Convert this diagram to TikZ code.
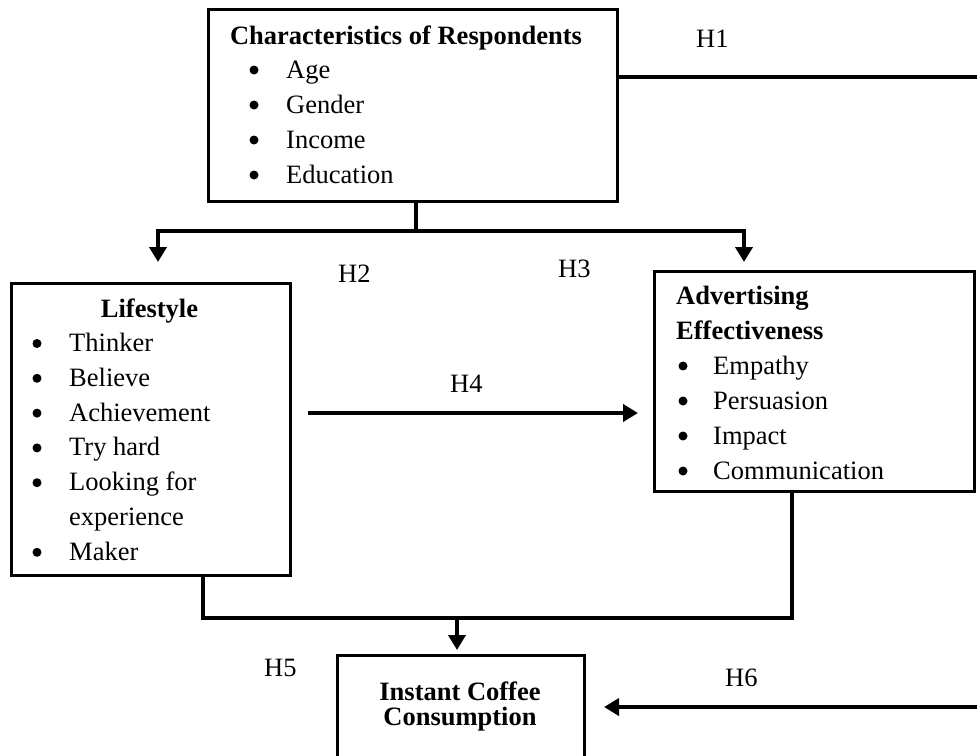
\documentclass[tikz,border=0pt]{standalone}
\usepackage{fontspec}
\setmainfont{Liberation Serif}
\usetikzlibrary{arrows.meta}
\begin{document}
\begin{tikzpicture}[x=1pt,y=-1pt,
 box/.style={draw,line width=2.6pt,inner sep=0pt,anchor=north west},
 conn/.style={line width=3.8pt},
 arr/.style={conn,-{Triangle[length=15pt,width=17pt]}},
 txt/.style={inner sep=0pt,anchor=base west,font=\fontsize{26.5}{35}\selectfont},
 btxt/.style={inner sep=0pt,anchor=base west,font=\fontsize{26.5}{35}\selectfont\bfseries},
 ctxt/.style={inner sep=0pt,anchor=base,font=\fontsize{26.5}{35}\selectfont\bfseries},
 bul/.style={circle,fill,inner sep=0pt,minimum size=9pt},
 hlab/.style={inner sep=0pt,anchor=base west,font=\fontsize{26.5}{35}\selectfont}]
\clip (0,0) rectangle (977,755);
\fill[white] (0,0) rectangle (977,755);

% boxes
\node[box,minimum width=409pt,minimum height=192pt] (resp) at (207,8) {};
\node[box,minimum width=279pt,minimum height=292pt] (life) at (10,282) {};
\node[box,minimum width=320pt,minimum height=220pt] (adv) at (653,270) {};
\node[box,minimum width=247pt,minimum height=140pt] (icc) at (336,654) {};

% respondents text
\node[ctxt] (rt) at (406,44) {Characteristics of Respondents};
\node[bul] (rb1) at (254,70) {};
\node[txt] (r1) at (286,78) {Age};
\node[bul] (rb2) at (254,105) {};
\node[txt] (r2) at (286,113) {Gender};
\node[bul] (rb3) at (254,140) {};
\node[txt] (r3) at (286,148) {Income};
\node[bul] (rb4) at (254,175) {};
\node[txt] (r4) at (286,183) {Education};

% lifestyle text
\node[ctxt] (lt) at (149.5,317) {Lifestyle};
\node[bul] (lb1) at (37,343.5) {};
\node[txt] (l1) at (69,351.5) {Thinker};
\node[bul] (lb2) at (37,378.3) {};
\node[txt] (l2) at (69,386.3) {Believe};
\node[bul] (lb3) at (37,413.1) {};
\node[txt] (l3) at (69,421.1) {Achievement};
\node[bul] (lb4) at (37,447.9) {};
\node[txt] (l4) at (69,455.9) {Try hard};
\node[bul] (lb5) at (37,482.7) {};
\node[txt] (l5) at (69,490.7) {Looking for};
\node[txt] (l6) at (69,525.5) {experience};
\node[bul] (lb7) at (37,552.3) {};
\node[txt] (l7) at (69,560.3) {Maker};

% advertising text
\node[btxt] (at1) at (676,304) {Advertising};
\node[btxt] (at2) at (676,339) {Effectiveness};
\node[bul] (ab1) at (683,366) {};
\node[txt] (a1) at (713,374) {Empathy};
\node[bul] (ab2) at (683,401) {};
\node[txt] (a2) at (713,409) {Persuasion};
\node[bul] (ab3) at (683,436) {};
\node[txt] (a3) at (713,444) {Impact};
\node[bul] (ab4) at (683,471) {};
\node[txt] (a4) at (713,479) {Communication};

% bottom box text
\node[ctxt] (it1) at (460,700) {Instant Coffee};
\node[ctxt] (it2) at (460,725) {Consumption};

% labels
\node[hlab] (h1) at (696,47) {H1};
\node[hlab] (h2) at (338,282) {H2};
\node[hlab] (h3) at (558,277) {H3};
\node[hlab] (h4) at (450,392) {H4};
\node[hlab] (h5) at (264,676) {H5};
\node[hlab] (h6) at (725,686) {H6};

% coordinates for connector ends
\coordinate (s1) at (416,201);
\coordinate (j1) at (416,231);
\coordinate (t2) at (158,262);
\coordinate (t3) at (744,262);
\coordinate (s4) at (308,413);
\coordinate (t4) at (638,413);
\coordinate (ls) at (203,575);
\coordinate (as) at (792,491);
\coordinate (j5) at (457,618);
\coordinate (t5) at (457,650);
\coordinate (h1s) at (617,77);
\coordinate (h1e) at (978,77);
\coordinate (h6s) at (978,707);
\coordinate (t6) at (604,707);

% connectors
\draw[conn] (s1) -- (j1);
\draw[arr] (j1) -| (t2);
\draw[arr] (j1) -| (t3);
\draw[arr] (s4) -- (t4);
\draw[conn] (ls) |- (j5);
\draw[conn] (j5) -| (as);
\draw[arr] (j5) -- (t5);
\draw[conn] (h1s) -- (h1e);
\draw[arr] (h6s) -- (t6);
\end{tikzpicture}
\end{document}
